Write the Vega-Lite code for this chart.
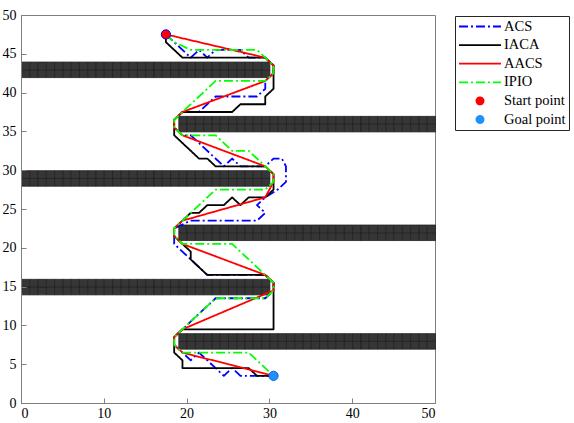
{
"$schema": "https://vega.github.io/schema/vega-lite/v6.json",
"width": 414, "height": 388,
"autosize": {"type": "none"},
"padding": {"left": 21, "top": 15, "right": 139, "bottom": 20},
"background": "white",
"config": {
  "view": {"stroke": "#7f7f7f", "strokeWidth": 1},
  "font": "Liberation Serif",
  "style": {"guide-label": {"font": "Liberation Serif"}},
  "axis": {"labelFont": "Liberation Serif", "labelFontSize": 14, "labelColor": "#000000", "domainColor": "#7f7f7f", "tickColor": "#7f7f7f", "grid": false, "title": null, "tickSize": -5},
  "legend": {"labelFont": "Liberation Serif"}
},
"datasets": {
"cells": [
{"x":0,"y":42},{"x":1,"y":42},{"x":2,"y":42},{"x":3,"y":42},{"x":4,"y":42},{"x":5,"y":42},{"x":6,"y":42},{"x":7,"y":42},{"x":8,"y":42},{"x":9,"y":42},{"x":10,"y":42},{"x":11,"y":42},{"x":12,"y":42},{"x":13,"y":42},{"x":14,"y":42},{"x":15,"y":42},{"x":16,"y":42},{"x":17,"y":42},{"x":18,"y":42},{"x":19,"y":42},{"x":20,"y":42},{"x":21,"y":42},{"x":22,"y":42},{"x":23,"y":42},{"x":24,"y":42},{"x":25,"y":42},{"x":26,"y":42},{"x":27,"y":42},{"x":28,"y":42},{"x":29,"y":42},
{"x":0,"y":43},{"x":1,"y":43},{"x":2,"y":43},{"x":3,"y":43},{"x":4,"y":43},{"x":5,"y":43},{"x":6,"y":43},{"x":7,"y":43},{"x":8,"y":43},{"x":9,"y":43},{"x":10,"y":43},{"x":11,"y":43},{"x":12,"y":43},{"x":13,"y":43},{"x":14,"y":43},{"x":15,"y":43},{"x":16,"y":43},{"x":17,"y":43},{"x":18,"y":43},{"x":19,"y":43},{"x":20,"y":43},{"x":21,"y":43},{"x":22,"y":43},{"x":23,"y":43},{"x":24,"y":43},{"x":25,"y":43},{"x":26,"y":43},{"x":27,"y":43},{"x":28,"y":43},{"x":29,"y":43},
{"x":0,"y":28},{"x":1,"y":28},{"x":2,"y":28},{"x":3,"y":28},{"x":4,"y":28},{"x":5,"y":28},{"x":6,"y":28},{"x":7,"y":28},{"x":8,"y":28},{"x":9,"y":28},{"x":10,"y":28},{"x":11,"y":28},{"x":12,"y":28},{"x":13,"y":28},{"x":14,"y":28},{"x":15,"y":28},{"x":16,"y":28},{"x":17,"y":28},{"x":18,"y":28},{"x":19,"y":28},{"x":20,"y":28},{"x":21,"y":28},{"x":22,"y":28},{"x":23,"y":28},{"x":24,"y":28},{"x":25,"y":28},{"x":26,"y":28},{"x":27,"y":28},{"x":28,"y":28},{"x":29,"y":28},
{"x":0,"y":29},{"x":1,"y":29},{"x":2,"y":29},{"x":3,"y":29},{"x":4,"y":29},{"x":5,"y":29},{"x":6,"y":29},{"x":7,"y":29},{"x":8,"y":29},{"x":9,"y":29},{"x":10,"y":29},{"x":11,"y":29},{"x":12,"y":29},{"x":13,"y":29},{"x":14,"y":29},{"x":15,"y":29},{"x":16,"y":29},{"x":17,"y":29},{"x":18,"y":29},{"x":19,"y":29},{"x":20,"y":29},{"x":21,"y":29},{"x":22,"y":29},{"x":23,"y":29},{"x":24,"y":29},{"x":25,"y":29},{"x":26,"y":29},{"x":27,"y":29},{"x":28,"y":29},{"x":29,"y":29},
{"x":0,"y":14},{"x":1,"y":14},{"x":2,"y":14},{"x":3,"y":14},{"x":4,"y":14},{"x":5,"y":14},{"x":6,"y":14},{"x":7,"y":14},{"x":8,"y":14},{"x":9,"y":14},{"x":10,"y":14},{"x":11,"y":14},{"x":12,"y":14},{"x":13,"y":14},{"x":14,"y":14},{"x":15,"y":14},{"x":16,"y":14},{"x":17,"y":14},{"x":18,"y":14},{"x":19,"y":14},{"x":20,"y":14},{"x":21,"y":14},{"x":22,"y":14},{"x":23,"y":14},{"x":24,"y":14},{"x":25,"y":14},{"x":26,"y":14},{"x":27,"y":14},{"x":28,"y":14},{"x":29,"y":14},
{"x":0,"y":15},{"x":1,"y":15},{"x":2,"y":15},{"x":3,"y":15},{"x":4,"y":15},{"x":5,"y":15},{"x":6,"y":15},{"x":7,"y":15},{"x":8,"y":15},{"x":9,"y":15},{"x":10,"y":15},{"x":11,"y":15},{"x":12,"y":15},{"x":13,"y":15},{"x":14,"y":15},{"x":15,"y":15},{"x":16,"y":15},{"x":17,"y":15},{"x":18,"y":15},{"x":19,"y":15},{"x":20,"y":15},{"x":21,"y":15},{"x":22,"y":15},{"x":23,"y":15},{"x":24,"y":15},{"x":25,"y":15},{"x":26,"y":15},{"x":27,"y":15},{"x":28,"y":15},{"x":29,"y":15},
{"x":19,"y":35},{"x":20,"y":35},{"x":21,"y":35},{"x":22,"y":35},{"x":23,"y":35},{"x":24,"y":35},{"x":25,"y":35},{"x":26,"y":35},{"x":27,"y":35},{"x":28,"y":35},{"x":29,"y":35},{"x":30,"y":35},{"x":31,"y":35},{"x":32,"y":35},{"x":33,"y":35},{"x":34,"y":35},{"x":35,"y":35},{"x":36,"y":35},{"x":37,"y":35},{"x":38,"y":35},{"x":39,"y":35},{"x":40,"y":35},{"x":41,"y":35},{"x":42,"y":35},{"x":43,"y":35},{"x":44,"y":35},{"x":45,"y":35},{"x":46,"y":35},{"x":47,"y":35},{"x":48,"y":35},{"x":49,"y":35},
{"x":19,"y":36},{"x":20,"y":36},{"x":21,"y":36},{"x":22,"y":36},{"x":23,"y":36},{"x":24,"y":36},{"x":25,"y":36},{"x":26,"y":36},{"x":27,"y":36},{"x":28,"y":36},{"x":29,"y":36},{"x":30,"y":36},{"x":31,"y":36},{"x":32,"y":36},{"x":33,"y":36},{"x":34,"y":36},{"x":35,"y":36},{"x":36,"y":36},{"x":37,"y":36},{"x":38,"y":36},{"x":39,"y":36},{"x":40,"y":36},{"x":41,"y":36},{"x":42,"y":36},{"x":43,"y":36},{"x":44,"y":36},{"x":45,"y":36},{"x":46,"y":36},{"x":47,"y":36},{"x":48,"y":36},{"x":49,"y":36},
{"x":19,"y":21},{"x":20,"y":21},{"x":21,"y":21},{"x":22,"y":21},{"x":23,"y":21},{"x":24,"y":21},{"x":25,"y":21},{"x":26,"y":21},{"x":27,"y":21},{"x":28,"y":21},{"x":29,"y":21},{"x":30,"y":21},{"x":31,"y":21},{"x":32,"y":21},{"x":33,"y":21},{"x":34,"y":21},{"x":35,"y":21},{"x":36,"y":21},{"x":37,"y":21},{"x":38,"y":21},{"x":39,"y":21},{"x":40,"y":21},{"x":41,"y":21},{"x":42,"y":21},{"x":43,"y":21},{"x":44,"y":21},{"x":45,"y":21},{"x":46,"y":21},{"x":47,"y":21},{"x":48,"y":21},{"x":49,"y":21},
{"x":19,"y":22},{"x":20,"y":22},{"x":21,"y":22},{"x":22,"y":22},{"x":23,"y":22},{"x":24,"y":22},{"x":25,"y":22},{"x":26,"y":22},{"x":27,"y":22},{"x":28,"y":22},{"x":29,"y":22},{"x":30,"y":22},{"x":31,"y":22},{"x":32,"y":22},{"x":33,"y":22},{"x":34,"y":22},{"x":35,"y":22},{"x":36,"y":22},{"x":37,"y":22},{"x":38,"y":22},{"x":39,"y":22},{"x":40,"y":22},{"x":41,"y":22},{"x":42,"y":22},{"x":43,"y":22},{"x":44,"y":22},{"x":45,"y":22},{"x":46,"y":22},{"x":47,"y":22},{"x":48,"y":22},{"x":49,"y":22},
{"x":19,"y":7},{"x":20,"y":7},{"x":21,"y":7},{"x":22,"y":7},{"x":23,"y":7},{"x":24,"y":7},{"x":25,"y":7},{"x":26,"y":7},{"x":27,"y":7},{"x":28,"y":7},{"x":29,"y":7},{"x":30,"y":7},{"x":31,"y":7},{"x":32,"y":7},{"x":33,"y":7},{"x":34,"y":7},{"x":35,"y":7},{"x":36,"y":7},{"x":37,"y":7},{"x":38,"y":7},{"x":39,"y":7},{"x":40,"y":7},{"x":41,"y":7},{"x":42,"y":7},{"x":43,"y":7},{"x":44,"y":7},{"x":45,"y":7},{"x":46,"y":7},{"x":47,"y":7},{"x":48,"y":7},{"x":49,"y":7},
{"x":19,"y":8},{"x":20,"y":8},{"x":21,"y":8},{"x":22,"y":8},{"x":23,"y":8},{"x":24,"y":8},{"x":25,"y":8},{"x":26,"y":8},{"x":27,"y":8},{"x":28,"y":8},{"x":29,"y":8},{"x":30,"y":8},{"x":31,"y":8},{"x":32,"y":8},{"x":33,"y":8},{"x":34,"y":8},{"x":35,"y":8},{"x":36,"y":8},{"x":37,"y":8},{"x":38,"y":8},{"x":39,"y":8},{"x":40,"y":8},{"x":41,"y":8},{"x":42,"y":8},{"x":43,"y":8},{"x":44,"y":8},{"x":45,"y":8},{"x":46,"y":8},{"x":47,"y":8},{"x":48,"y":8},{"x":49,"y":8}
],
"paths": [
{"series":"ACS","i":1,"x":17.5,"y":47.5},{"series":"ACS","i":2,"x":18.5,"y":46.5},{"series":"ACS","i":3,"x":19.5,"y":45.5},{"series":"ACS","i":4,"x":20.5,"y":44.5},{"series":"ACS","i":5,"x":21.5,"y":45.5},{"series":"ACS","i":6,"x":22.5,"y":44.5},{"series":"ACS","i":7,"x":23.5,"y":45.5},{"series":"ACS","i":8,"x":26.5,"y":45.5},{"series":"ACS","i":9,"x":27.5,"y":44.5},{"series":"ACS","i":10,"x":29.5,"y":44.5},{"series":"ACS","i":11,"x":30.5,"y":43.5},{"series":"ACS","i":12,"x":30.5,"y":42.5},{"series":"ACS","i":13,"x":29.5,"y":41.5},{"series":"ACS","i":14,"x":29.5,"y":40.5},{"series":"ACS","i":15,"x":28.5,"y":39.5},{"series":"ACS","i":16,"x":23.5,"y":39.5},{"series":"ACS","i":17,"x":21.5,"y":37.5},{"series":"ACS","i":18,"x":19.5,"y":37.5},{"series":"ACS","i":19,"x":18.5,"y":36.5},{"series":"ACS","i":20,"x":18.5,"y":35.5},{"series":"ACS","i":21,"x":19.5,"y":34.5},{"series":"ACS","i":22,"x":20.5,"y":34.5},{"series":"ACS","i":23,"x":24.5,"y":30.5},{"series":"ACS","i":24,"x":25.5,"y":31.5},{"series":"ACS","i":25,"x":26.5,"y":30.5},{"series":"ACS","i":26,"x":29.5,"y":30.5},{"series":"ACS","i":27,"x":30.5,"y":31.5},{"series":"ACS","i":28,"x":31.5,"y":31.5},{"series":"ACS","i":29,"x":32,"y":30.5},{"series":"ACS","i":30,"x":32,"y":28.5},{"series":"ACS","i":31,"x":31,"y":27.5},{"series":"ACS","i":32,"x":29.5,"y":26.5},{"series":"ACS","i":33,"x":28.5,"y":25.5},{"series":"ACS","i":34,"x":29.5,"y":24.5},{"series":"ACS","i":35,"x":28.5,"y":23.5},{"series":"ACS","i":36,"x":20.5,"y":23.5},{"series":"ACS","i":37,"x":18.5,"y":22.5},{"series":"ACS","i":38,"x":18.5,"y":21.5},{"series":"ACS","i":39,"x":18.5,"y":20.5},{"series":"ACS","i":40,"x":20.5,"y":18.5},{"series":"ACS","i":41,"x":22.5,"y":16.5},{"series":"ACS","i":42,"x":29.5,"y":16.5},{"series":"ACS","i":43,"x":30.5,"y":15.5},{"series":"ACS","i":44,"x":30.5,"y":14.5},{"series":"ACS","i":45,"x":29.5,"y":13.5},{"series":"ACS","i":46,"x":23.5,"y":13.5},{"series":"ACS","i":47,"x":18.5,"y":8.5},{"series":"ACS","i":48,"x":18.5,"y":7.5},{"series":"ACS","i":49,"x":19.5,"y":6.5},{"series":"ACS","i":50,"x":20.5,"y":5.5},{"series":"ACS","i":51,"x":21.5,"y":6.5},{"series":"ACS","i":52,"x":22.5,"y":5.5},{"series":"ACS","i":53,"x":24.5,"y":3.5},{"series":"ACS","i":54,"x":25.5,"y":4.5},{"series":"ACS","i":55,"x":26.5,"y":3.5},{"series":"ACS","i":56,"x":30.5,"y":3.5},
{"series":"IACA","i":1,"x":17.5,"y":47.5},{"series":"IACA","i":2,"x":17.5,"y":46.5},{"series":"IACA","i":3,"x":19.5,"y":44.5},{"series":"IACA","i":4,"x":29.5,"y":44.5},{"series":"IACA","i":5,"x":30.5,"y":43.5},{"series":"IACA","i":6,"x":30.5,"y":40.5},{"series":"IACA","i":7,"x":29.5,"y":39.5},{"series":"IACA","i":8,"x":29.5,"y":38.5},{"series":"IACA","i":9,"x":26.5,"y":38.5},{"series":"IACA","i":10,"x":25.5,"y":37.5},{"series":"IACA","i":11,"x":19.5,"y":37.5},{"series":"IACA","i":12,"x":18.5,"y":36.5},{"series":"IACA","i":13,"x":18.5,"y":34.5},{"series":"IACA","i":14,"x":21.5,"y":31.5},{"series":"IACA","i":15,"x":22.5,"y":31.5},{"series":"IACA","i":16,"x":23.5,"y":30.5},{"series":"IACA","i":17,"x":29.5,"y":30.5},{"series":"IACA","i":18,"x":30.5,"y":29.5},{"series":"IACA","i":19,"x":30.5,"y":27.5},{"series":"IACA","i":20,"x":29.5,"y":26.5},{"series":"IACA","i":21,"x":27.5,"y":26.5},{"series":"IACA","i":22,"x":26.5,"y":25.5},{"series":"IACA","i":23,"x":25.5,"y":26.5},{"series":"IACA","i":24,"x":24.5,"y":25.5},{"series":"IACA","i":25,"x":22.5,"y":25.5},{"series":"IACA","i":26,"x":21.5,"y":24.5},{"series":"IACA","i":27,"x":20.5,"y":24.5},{"series":"IACA","i":28,"x":19.5,"y":23.5},{"series":"IACA","i":29,"x":18.5,"y":22.5},{"series":"IACA","i":30,"x":18.5,"y":21.5},{"series":"IACA","i":31,"x":19.5,"y":20.5},{"series":"IACA","i":32,"x":20.5,"y":19.5},{"series":"IACA","i":33,"x":20.5,"y":18.5},{"series":"IACA","i":34,"x":22.5,"y":16.5},{"series":"IACA","i":35,"x":29.5,"y":16.5},{"series":"IACA","i":36,"x":30.5,"y":15.5},{"series":"IACA","i":37,"x":30.5,"y":9.5},{"series":"IACA","i":38,"x":19.5,"y":9.5},{"series":"IACA","i":39,"x":18.5,"y":8.5},{"series":"IACA","i":40,"x":18.5,"y":6.5},{"series":"IACA","i":41,"x":19.5,"y":5.5},{"series":"IACA","i":42,"x":19.5,"y":4.5},{"series":"IACA","i":43,"x":27.5,"y":4.5},{"series":"IACA","i":44,"x":28.5,"y":3.5},{"series":"IACA","i":45,"x":30.5,"y":3.5},
{"series":"AACS","i":1,"x":17.5,"y":47.5},{"series":"AACS","i":2,"x":29.5,"y":44.5},{"series":"AACS","i":3,"x":30.5,"y":43.5},{"series":"AACS","i":4,"x":30.5,"y":42.5},{"series":"AACS","i":5,"x":29.5,"y":41.5},{"series":"AACS","i":6,"x":19.5,"y":37.5},{"series":"AACS","i":7,"x":18.5,"y":36.5},{"series":"AACS","i":8,"x":18.5,"y":35.5},{"series":"AACS","i":9,"x":19.5,"y":34.5},{"series":"AACS","i":10,"x":29.5,"y":30.5},{"series":"AACS","i":11,"x":30.5,"y":29.5},{"series":"AACS","i":12,"x":30.5,"y":28.5},{"series":"AACS","i":13,"x":29.5,"y":26.5},{"series":"AACS","i":14,"x":19.5,"y":23.5},{"series":"AACS","i":15,"x":18.5,"y":22.5},{"series":"AACS","i":16,"x":18.5,"y":21.5},{"series":"AACS","i":17,"x":19.5,"y":20.5},{"series":"AACS","i":18,"x":29.5,"y":16.5},{"series":"AACS","i":19,"x":30.5,"y":15.5},{"series":"AACS","i":20,"x":30.5,"y":14.5},{"series":"AACS","i":21,"x":19.5,"y":9.5},{"series":"AACS","i":22,"x":18.5,"y":8.5},{"series":"AACS","i":23,"x":18.5,"y":7.5},{"series":"AACS","i":24,"x":19.5,"y":6.5},{"series":"AACS","i":25,"x":30.5,"y":3.5},
{"series":"IPIO","i":1,"x":17.5,"y":47.5},{"series":"IPIO","i":2,"x":18.5,"y":46.5},{"series":"IPIO","i":3,"x":20.5,"y":45.5},{"series":"IPIO","i":4,"x":28.5,"y":45.5},{"series":"IPIO","i":5,"x":29.5,"y":44.5},{"series":"IPIO","i":6,"x":30.5,"y":43.5},{"series":"IPIO","i":7,"x":30.5,"y":42.5},{"series":"IPIO","i":8,"x":29.5,"y":41.5},{"series":"IPIO","i":9,"x":23.5,"y":41.5},{"series":"IPIO","i":10,"x":18.5,"y":36.5},{"series":"IPIO","i":11,"x":18.5,"y":35.5},{"series":"IPIO","i":12,"x":19.5,"y":34.5},{"series":"IPIO","i":13,"x":23.5,"y":34.5},{"series":"IPIO","i":14,"x":25.5,"y":32.5},{"series":"IPIO","i":15,"x":27.5,"y":32.5},{"series":"IPIO","i":16,"x":29.5,"y":30.5},{"series":"IPIO","i":17,"x":30.5,"y":29.5},{"series":"IPIO","i":18,"x":30.5,"y":28.5},{"series":"IPIO","i":19,"x":29.5,"y":27.5},{"series":"IPIO","i":20,"x":23.5,"y":27.5},{"series":"IPIO","i":21,"x":18.5,"y":22.5},{"series":"IPIO","i":22,"x":18.5,"y":21.5},{"series":"IPIO","i":23,"x":19.5,"y":20.5},{"series":"IPIO","i":24,"x":25.5,"y":20.5},{"series":"IPIO","i":25,"x":29.5,"y":16.5},{"series":"IPIO","i":26,"x":30.5,"y":15.5},{"series":"IPIO","i":27,"x":30.5,"y":14.5},{"series":"IPIO","i":28,"x":29.5,"y":13.5},{"series":"IPIO","i":29,"x":23.5,"y":13.5},{"series":"IPIO","i":30,"x":18.5,"y":8.5},{"series":"IPIO","i":31,"x":18.5,"y":7.5},{"series":"IPIO","i":32,"x":19.5,"y":6.5},{"series":"IPIO","i":33,"x":27.5,"y":6.5},{"series":"IPIO","i":34,"x":30.5,"y":3.5}
],
"points": [
{"series":"Start point","x":17.5,"y":47.5},
{"series":"Goal point","x":30.5,"y":3.5}
]
},
"layer": [
{
  "data": {"name": "cells"},
  "mark": {"type": "rect", "fill": "#363636", "stroke": "#222222", "strokeWidth": 0.8},
  "encoding": {
    "x": {"field": "x", "type": "quantitative", "bin": {"step": 1, "extent": [0, 50]}, "scale": {"domain": [0, 50], "nice": false, "zero": false}, "axis": {"values": [0, 10, 20, 30, 40, 50], "labelPadding": 8, "format": "d", "labelFont": "Liberation Serif"}},
    "y": {"field": "y", "type": "quantitative", "bin": {"step": 1, "extent": [0, 50]}, "scale": {"domain": [0, 50], "nice": false, "zero": false}, "axis": {"values": [0, 5, 10, 15, 20, 25, 30, 35, 40, 45, 50], "labelPadding": 10, "format": "d", "labelFont": "Liberation Serif"}}
  }
},
{
  "data": {"name": "paths"},
  "mark": {"type": "line", "strokeWidth": 1.8, "strokeJoin": "round"},
  "encoding": {
    "x": {"field": "x", "type": "quantitative", "scale": {"domain": [0, 50], "nice": false, "zero": false}, "axis": {"values": [0, 10, 20, 30, 40, 50], "labelPadding": 8, "format": "d", "labelFont": "Liberation Serif"}},
    "y": {"field": "y", "type": "quantitative", "scale": {"domain": [0, 50], "nice": false, "zero": false}, "axis": {"values": [0, 5, 10, 15, 20, 25, 30, 35, 40, 45, 50], "labelPadding": 10, "format": "d", "labelFont": "Liberation Serif"}},
    "order": {"field": "i", "type": "quantitative"},
    "strokeDash": {"field": "series", "type": "nominal", "scale": {"domain": ["ACS", "IACA", "AACS", "IPIO"], "range": [[9, 3, 2, 3], [1, 0], [1, 0], [9, 3, 2, 3]]}, "legend": null},
    "color": {
      "field": "series", "type": "nominal",
      "scale": {"domain": ["ACS", "IACA", "AACS", "IPIO", "Start point", "Goal point"], "range": ["#0000ff", "#000000", "#ff0000", "#00ff00", "#ff0000", "#1e90ff"]},
      "legend": {
        "orient": "none", "legendX": 434, "legendY": 1, "title": null,
        "strokeColor": "#262626", "fillColor": "#ffffff", "padding": 3,
        "symbolSize": 1764, "symbolType": "stroke", "symbolStrokeWidth": 1.8, "clipHeight": 15,
        "labelFont": "Liberation Serif", "labelFontSize": 14.5, "labelColor": "#000000", "labelOffset": 2, "rowPadding": 2.6, "labelLimit": 200,
        "encode": {
          "symbols": {"update": {
            "shape": {"signal": "datum.value == 'Start point' || datum.value == 'Goal point' ? 'M0.17,0A0.17,0.17 0 1,1 -0.17,0A0.17,0.17 0 1,1 0.17,0Z' : 'stroke'"},
            "fill": {"signal": "datum.value == 'Start point' ? '#ff0000' : datum.value == 'Goal point' ? '#1e90ff' : 'transparent'"},
            "stroke": {"signal": "datum.value == 'Start point' || datum.value == 'Goal point' ? 'transparent' : scale('color', datum.value)"},
            "strokeDash": {"signal": "datum.value == 'ACS' || datum.value == 'IPIO' ? [9,3,2,3] : [1,0]"},
            "opacity": {"value": 1}
          }},
          "labels": {"update": {"font": {"value": "Liberation Serif"}}}
        }
      }
    }
  }
},
{
  "data": {"name": "points"},
  "mark": {"type": "point", "filled": true, "shape": "circle", "size": 85, "strokeWidth": 1, "opacity": 1},
  "encoding": {
    "x": {"field": "x", "type": "quantitative"},
    "y": {"field": "y", "type": "quantitative"},
    "color": {"field": "series", "type": "nominal", "legend": null},
    "stroke": {"field": "series", "type": "nominal", "scale": {"domain": ["Start point", "Goal point"], "range": ["#0000ff", "#1060d0"]}, "legend": null}
  }
}
]
}
